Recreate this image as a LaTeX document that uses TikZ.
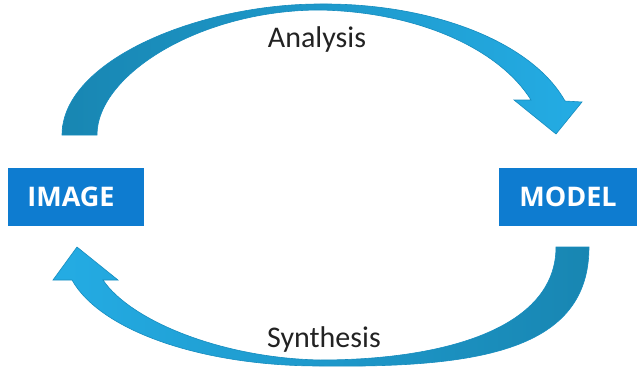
\documentclass[tikz,border=0pt]{standalone}
\usepackage{fontspec}
\newfontfamily\labelfont{Carlito}
\newfontfamily\boxfont{Open Sans}
\definecolor{boxblue}{RGB}{14,124,208}
\definecolor{arrowdark}{RGB}{24,134,178}
\definecolor{arrowmid}{RGB}{28,148,198}
\definecolor{arrowlight}{RGB}{36,172,228}
\definecolor{arrowedge}{RGB}{22,140,190}
\definecolor{labelgray}{RGB}{34,34,34}
\tikzset{
  blockbox/.style={fill=boxblue, inner sep=0pt, text=white,
    font=\boxfont\bfseries\fontsize{27}{30}\selectfont},
  cyclelabel/.style={text=labelgray, inner sep=0pt, anchor=base,
    font=\labelfont\fontsize{30}{36}\selectfont},
  arrowoutline/.style={draw=arrowedge, line width=0.6pt, line join=miter}
}
\begin{document}
\begin{tikzpicture}[x=1pt, y=-1pt]
  \useasboundingbox (0,0) rectangle (637,369);

  % the two blocks
  \node[blockbox, minimum width=136pt, minimum height=58pt] (image) at (76,197)
    {\raisebox{-2pt}{\hspace*{-10pt}IMAGE}};
  \node[blockbox, minimum width=138pt, minimum height=58pt] (model) at (568,197)
    {\raisebox{-2pt}{MODEL}};

  % upper curved arrow, IMAGE towards MODEL
  \shade[left color=arrowdark, middle color=arrowmid, right color=arrowlight, arrowoutline]
    (62,135) .. controls (62,60) and (200,4) .. (320,4)
    .. controls (432,3) and (532,42) .. (565,101)
    -- (582,102) -- (556,134) -- (514,100) -- (531,100)
    .. controls (500,50) and (420,12) .. (320,10)
    .. controls (200,10) and (97,75) .. (97,135) -- cycle;

  % lower curved arrow, MODEL back to IMAGE
  \shade[left color=arrowlight, middle color=arrowmid, right color=arrowdark, arrowoutline]
    (589,247) .. controls (589,350) and (480,368) .. (320,366)
    .. controls (200,366) and (100,330) .. (72,280)
    -- (53,280) -- (77,247) -- (118,280) -- (103,280)
    .. controls (130,320) and (220,358) .. (320,360)
    .. controls (440,360) and (556,330) .. (556,247) -- cycle;

  % arrow labels
  \node[cyclelabel] (analysis) at (317,48) {Analysis};
  \node[cyclelabel] (synthesis) at (324,347) {Synthesis};
\end{tikzpicture}
\end{document}
